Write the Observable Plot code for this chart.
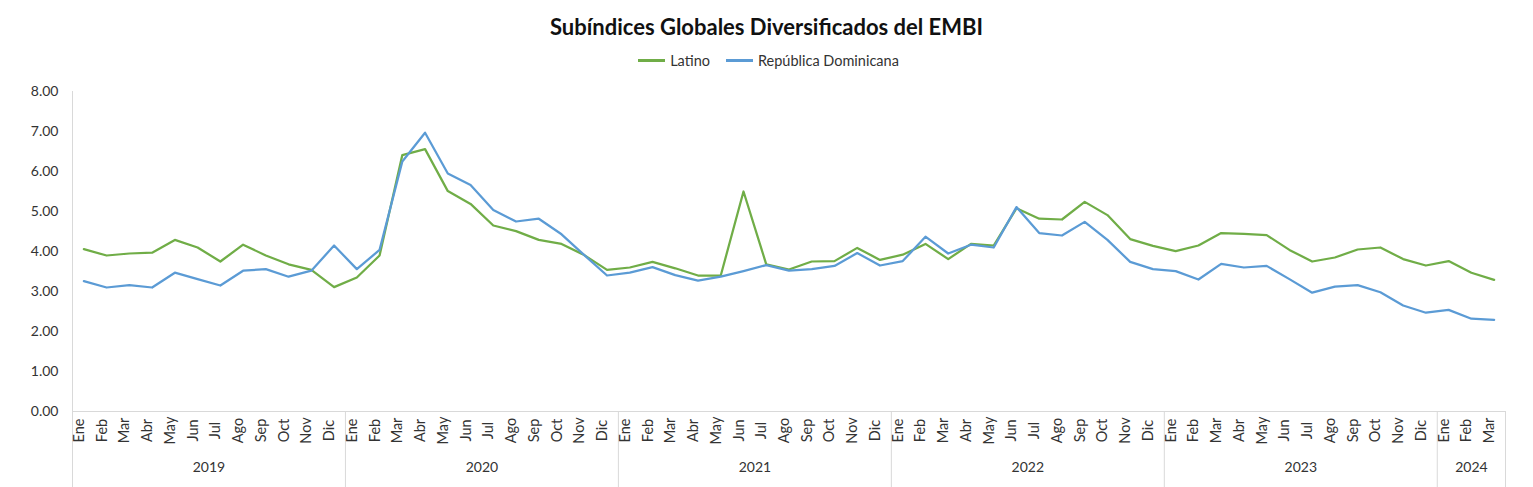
<!DOCTYPE html>
<html><head><meta charset="utf-8">
<script src="https://cdn.jsdelivr.net/npm/d3@7"></script>
<script src="https://cdn.jsdelivr.net/npm/@observablehq/plot@0.6"></script>
<style>
body{margin:0;background:#fff;font-family:Lato,"Open Sans",sans-serif;color:#222;}
#wrap{position:relative;width:1533px;height:487px;}
#title{position:absolute;top:13px;left:0;width:1533px;text-align:center;font-weight:bold;font-size:22px;color:#111;}
#legend{position:absolute;top:52px;left:0;width:1533px;display:flex;justify-content:center;align-items:center;font-size:14.5px;color:#333;padding-left:4px;box-sizing:border-box;}
.sw{display:inline-block;width:27px;height:2.5px;margin-right:5px;}
.item{display:flex;align-items:center;margin:0 8px;}
#chart{position:absolute;top:80px;left:0;}
</style></head>
<body><div id="wrap">
<div id="title">Subíndices Globales Diversificados del EMBI</div>
<div id="legend"></div>
<div id="chart"></div>
</div>
<script>
const monthNames = ["Ene","Feb","Mar","Abr","May","Jun","Jul","Ago","Sep","Oct","Nov","Dic"];
const years = [2019, 2020, 2021, 2022, 2023, 2024];
const monthsPerYear = [12, 12, 12, 12, 12, 3];
const seriesNames = ["Latino", "República Dominicana"];
const seriesColors = ["#70AD47", "#5B9BD5"];
const latino = [4.06,3.90,3.95,3.97,4.29,4.10,3.75,4.17,3.90,3.68,3.54,3.11,
3.35,3.90,6.41,6.56,5.51,5.19,4.65,4.51,4.29,4.19,3.91,3.54,
3.60,3.74,3.58,3.40,3.40,5.50,3.68,3.55,3.75,3.76,4.09,3.79,
3.92,4.19,3.81,4.19,4.15,5.08,4.82,4.80,5.24,4.91,4.31,4.14,
4.01,4.15,4.46,4.44,4.41,4.04,3.75,3.85,4.05,4.10,3.81,3.65,
3.76,3.47,3.29];
const dominicana = [3.26,3.10,3.16,3.10,3.47,3.31,3.15,3.52,3.56,3.37,3.52,4.15,
3.56,4.04,6.25,6.97,5.95,5.66,5.04,4.75,4.82,4.43,3.91,3.40,
3.47,3.61,3.41,3.27,3.37,3.51,3.66,3.52,3.56,3.64,3.96,3.65,
3.76,4.37,3.95,4.17,4.10,5.11,4.46,4.40,4.74,4.29,3.74,3.56,
3.51,3.30,3.69,3.60,3.64,3.31,2.97,3.12,3.16,2.98,2.65,2.47,
2.54,2.32,2.29];
const yTicks = [0,1,2,3,4,5,6,7,8];

// build period table
const periods = [];
const yearGroups = [];
const boundaries = [-0.5];
years.forEach((yr, k) => {
  const start = periods.length;
  for (let m = 0; m < monthsPerYear[k]; m++) periods.push({i: periods.length, month: monthNames[m], year: yr});
  yearGroups.push({year: String(yr), center: (start + periods.length - 1) / 2});
  boundaries.push(periods.length - 0.5);
});
const data = [];
[latino, dominicana].forEach((arr, s) => arr.forEach((v, i) => data.push({i, v, serie: seriesNames[s]})));

// legend
const lg = document.getElementById("legend");
seriesNames.forEach((n, s) => {
  const it = document.createElement("div"); it.className = "item";
  it.innerHTML = `<span class="sw" style="background:${seriesColors[s]}"></span><span>${n}</span>`;
  lg.appendChild(it);
});

const chart = Plot.plot({
  width: 1533, height: 407,
  marginLeft: 72, marginRight: 28, marginTop: 11, marginBottom: 76,
  x: {type: "linear", domain: [-0.5, periods.length - 0.5], axis: null},
  y: {domain: [0, 8], axis: null},
  color: {domain: seriesNames, range: seriesColors},
  style: {fontFamily: "Lato, 'Open Sans', sans-serif", fontSize: "13px", color: "#333", background: "#fff"},
  marks: [
    Plot.axisY({ticks: yTicks, tickSize: 0, tickPadding: 14, tickFormat: d3.format(".2f"), label: null, fontSize: 14}),
    Plot.frame({anchor: "left", stroke: "#d9d9d9"}),
    Plot.frame({anchor: "bottom", stroke: "#d9d9d9"}),
    Plot.axisX({ticks: boundaries, tickSize: 76, tickFormat: () => "", stroke: "#d9d9d9", label: null}),
    Plot.text(periods, {x: "i", text: "month", frameAnchor: "bottom", rotate: -90, dy: 19, fontSize: 14.5, fill: "#333"}),
    Plot.text(yearGroups, {x: "center", text: "year", frameAnchor: "bottom", dy: 60, fontSize: 14, fill: "#333"}),
    Plot.line(data, {x: "i", y: "v", z: "serie", stroke: "serie", strokeWidth: 2.25})
  ]
});
document.getElementById("chart").appendChild(chart);
</script>
</body></html>
